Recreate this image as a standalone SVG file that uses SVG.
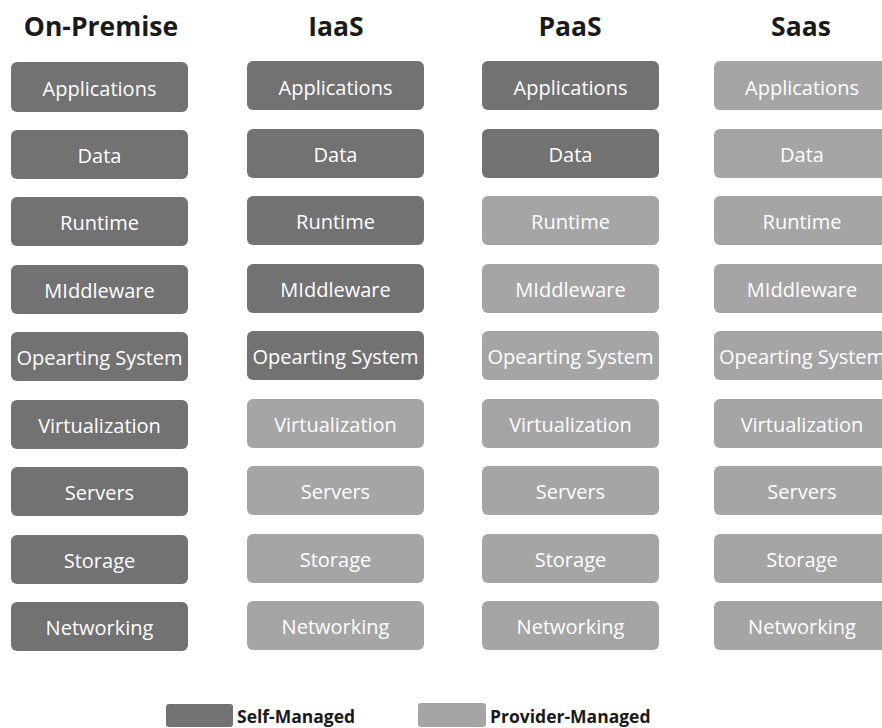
<svg xmlns="http://www.w3.org/2000/svg" width="882" height="728" viewBox="0 0 882 728">
<style>
.t{font-family:"Open Sans","Noto Sans",sans-serif;font-weight:bold;font-size:26.5px;fill:#1a1a1a;text-anchor:middle}
.b rect{rx:6;ry:6}
.s{fill:#727272}
.p{fill:#a5a5a5}
.l{font-family:"Open Sans","Noto Sans",sans-serif;font-size:20px;fill:#ffffff;text-anchor:middle}
.g{font-family:"Open Sans","Noto Sans",sans-serif;font-weight:bold;font-size:17.5px;fill:#1a1a1a}
</style>
<rect width="882" height="728" fill="#ffffff"/>
<g id="titles">
<text class="t" x="101" y="36">On-Premise</text>
<text class="t" x="336" y="36">IaaS</text>
<text class="t" x="570" y="36">PaaS</text>
<text class="t" x="801" y="36">Saas</text>
</g>
<g id="onprem" class="b">
<g id="op-app"><rect class="s" x="11" y="62" width="177" height="50"/><text class="l" x="99.5" y="96">Applications</text></g>
<g id="op-data"><rect class="s" x="11" y="130" width="177" height="49"/><text class="l" x="99.5" y="163">Data</text></g>
<g id="op-run"><rect class="s" x="11" y="197" width="177" height="49"/><text class="l" x="99.5" y="230">Runtime</text></g>
<g id="op-mid"><rect class="s" x="11" y="265" width="177" height="49"/><text class="l" x="99.5" y="298">MIddleware</text></g>
<g id="op-os"><rect class="s" x="11" y="332" width="177" height="49"/><text class="l" x="99.5" y="365">Opearting System</text></g>
<g id="op-virt"><rect class="s" x="11" y="400" width="177" height="49"/><text class="l" x="99.5" y="433">Virtualization</text></g>
<g id="op-srv"><rect class="s" x="11" y="467" width="177" height="49"/><text class="l" x="99.5" y="500">Servers</text></g>
<g id="op-sto"><rect class="s" x="11" y="535" width="177" height="49"/><text class="l" x="99.5" y="568">Storage</text></g>
<g id="op-net"><rect class="s" x="11" y="602" width="177" height="49"/><text class="l" x="99.5" y="635">Networking</text></g>
</g>
<g id="iaas" class="b">
<g id="ia-app"><rect class="s" x="247" y="61" width="177" height="49"/><text class="l" x="335.5" y="95">Applications</text></g>
<g id="ia-data"><rect class="s" x="247" y="129" width="177" height="49"/><text class="l" x="335.5" y="162">Data</text></g>
<g id="ia-run"><rect class="s" x="247" y="196" width="177" height="49"/><text class="l" x="335.5" y="229">Runtime</text></g>
<g id="ia-mid"><rect class="s" x="247" y="264" width="177" height="49"/><text class="l" x="335.5" y="297">MIddleware</text></g>
<g id="ia-os"><rect class="s" x="247" y="331" width="177" height="49"/><text class="l" x="335.5" y="364">Opearting System</text></g>
<g id="ia-virt"><rect class="p" x="247" y="399" width="177" height="49"/><text class="l" x="335.5" y="432">Virtualization</text></g>
<g id="ia-srv"><rect class="p" x="247" y="466" width="177" height="49"/><text class="l" x="335.5" y="499">Servers</text></g>
<g id="ia-sto"><rect class="p" x="247" y="534" width="177" height="49"/><text class="l" x="335.5" y="567">Storage</text></g>
<g id="ia-net"><rect class="p" x="247" y="601" width="177" height="49"/><text class="l" x="335.5" y="634">Networking</text></g>
</g>
<g id="paas" class="b">
<g id="pa-app"><rect class="s" x="482" y="61" width="177" height="49"/><text class="l" x="570.5" y="95">Applications</text></g>
<g id="pa-data"><rect class="s" x="482" y="129" width="177" height="49"/><text class="l" x="570.5" y="162">Data</text></g>
<g id="pa-run"><rect class="p" x="482" y="196" width="177" height="49"/><text class="l" x="570.5" y="229">Runtime</text></g>
<g id="pa-mid"><rect class="p" x="482" y="264" width="177" height="49"/><text class="l" x="570.5" y="297">MIddleware</text></g>
<g id="pa-os"><rect class="p" x="482" y="331" width="177" height="49"/><text class="l" x="570.5" y="364">Opearting System</text></g>
<g id="pa-virt"><rect class="p" x="482" y="399" width="177" height="49"/><text class="l" x="570.5" y="432">Virtualization</text></g>
<g id="pa-srv"><rect class="p" x="482" y="466" width="177" height="49"/><text class="l" x="570.5" y="499">Servers</text></g>
<g id="pa-sto"><rect class="p" x="482" y="534" width="177" height="49"/><text class="l" x="570.5" y="567">Storage</text></g>
<g id="pa-net"><rect class="p" x="482" y="601" width="177" height="49"/><text class="l" x="570.5" y="634">Networking</text></g>
</g>
<g id="saas" class="b">
<g id="sa-app"><rect class="p" x="714" y="61" width="177" height="49"/><text class="l" x="802" y="95">Applications</text></g>
<g id="sa-data"><rect class="p" x="714" y="129" width="177" height="49"/><text class="l" x="802" y="162">Data</text></g>
<g id="sa-run"><rect class="p" x="714" y="196" width="177" height="49"/><text class="l" x="802" y="229">Runtime</text></g>
<g id="sa-mid"><rect class="p" x="714" y="264" width="177" height="49"/><text class="l" x="802" y="297">MIddleware</text></g>
<g id="sa-os"><rect class="p" x="714" y="331" width="177" height="49"/><text class="l" x="802" y="364">Opearting System</text></g>
<g id="sa-virt"><rect class="p" x="714" y="399" width="177" height="49"/><text class="l" x="802" y="432">Virtualization</text></g>
<g id="sa-srv"><rect class="p" x="714" y="466" width="177" height="49"/><text class="l" x="802" y="499">Servers</text></g>
<g id="sa-sto"><rect class="p" x="714" y="534" width="177" height="49"/><text class="l" x="802" y="567">Storage</text></g>
<g id="sa-net"><rect class="p" x="714" y="601" width="177" height="49"/><text class="l" x="802" y="634">Networking</text></g>
</g>
<g id="legend">
<g id="lg-self"><rect class="s" x="166" y="704" width="67" height="23" rx="3"/><text class="g" x="237" y="723">Self-Managed</text></g>
<g id="lg-prov"><rect class="p" x="418" y="703" width="68" height="24" rx="3"/><text class="g" x="490" y="723">Provider-Managed</text></g>
</g>
<g id="connectors"/>
</svg>
